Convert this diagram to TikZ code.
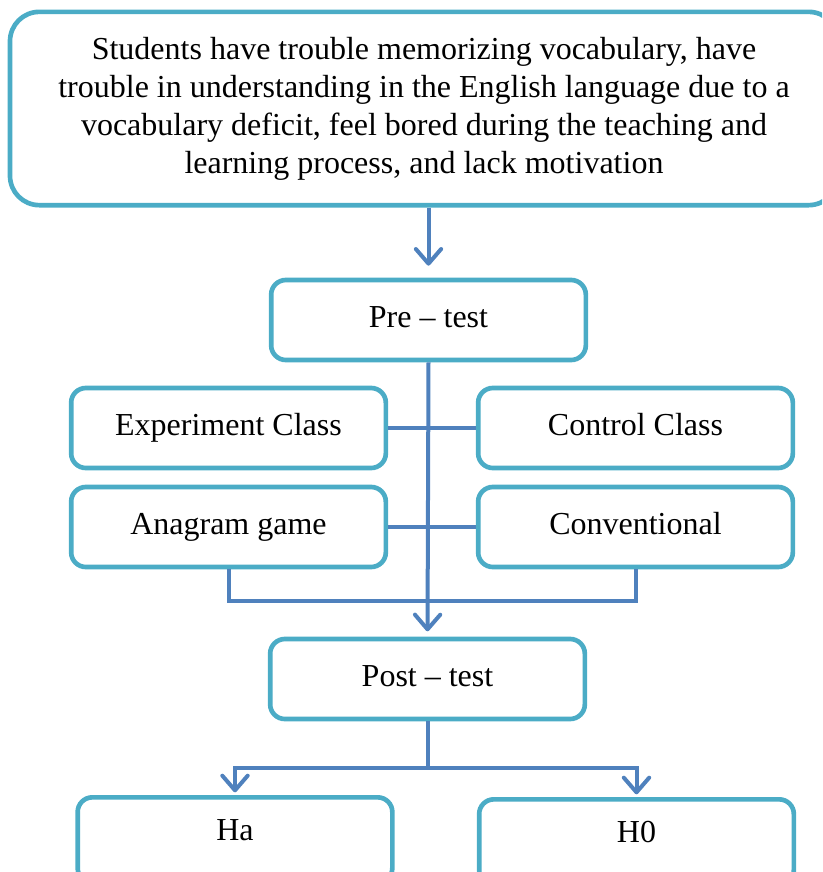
\documentclass[tikz,border=0pt]{standalone}
\usepackage{fontspec}
\setmainfont{Liberation Serif}
\usepackage{tikz}
\usetikzlibrary{arrows.meta,positioning,calc}
\definecolor{boxAqua}{HTML}{4BACC6}
\definecolor{lineBlue}{HTML}{4F81BD}
\tikzset{
  >={Straight Barb[length=11pt,width=19pt,line cap=round,line join=round]},
  every picture/.append style={font=\fontsize{24}{28.5}\selectfont},
  bigbox/.style={rectangle,rounded corners=22pt,draw=boxAqua,line width=3.5pt,fill=white,align=center,minimum width=621pt,minimum height=145pt,inner sep=0pt},
  stagebox/.style={rectangle,rounded corners=11pt,draw=boxAqua,line width=3.5pt,fill=white,align=center,minimum width=236pt,minimum height=60pt,inner sep=0pt,text height=17pt,text depth=6pt},
  endbox/.style={stagebox,minimum height=64pt,text depth=16pt},
  flowline/.style={draw=lineBlue,line width=3pt},
  flowarrow/.style={->,flowline},
}
\begin{document}
\begin{tikzpicture}[x=0.75pt,y=-0.75pt]
  \clip (0,0) rectangle (822,872);

  \node[bigbox] (problem) at (424,108.5) {Students have trouble memorizing vocabulary, have\\trouble in understanding in the English language due to a\\vocabulary deficit, feel bored during the teaching and\\learning process, and lack motivation};

  \node[stagebox] (pretest) at (428.5,320) {Pre -- test};
  \node[stagebox] (expclass) at (228.5,428) {Experiment Class};
  \node[stagebox] (ctrlclass) at (635.5,428) {Control Class};
  \node[stagebox] (anagram) at (228.5,527) {Anagram game};
  \node[stagebox] (convent) at (635.5,527) {Conventional};
  \node[stagebox] (posttest) at (427.5,679) {Post -- test};
  \node[endbox] (ha) at (235,840) {Ha};
  \node[endbox] (hzero) at (636.5,842) {H0};

  \draw[flowarrow, shorten >=9pt] (pretest.north |- problem.south) -- (pretest.north);
  \draw[flowarrow, shorten >=4pt] (pretest.south) -- (posttest.north);
  \draw[flowline] (expclass.east) -- (ctrlclass.west);
  \draw[flowline] (anagram.east) -- (convent.west);
  \draw[flowline] (anagram.south) -- ++(0,32) -| (convent.south);

  \coordinate (split) at ($(posttest.south)+(0,47)$);
  \draw[flowline] (posttest.south) -- (split);
  \draw[flowarrow, shorten >=2pt] (split) -| (ha.north);
  \draw[flowarrow, shorten >=2pt] (split) -| (hzero.north);
\end{tikzpicture}
\end{document}
